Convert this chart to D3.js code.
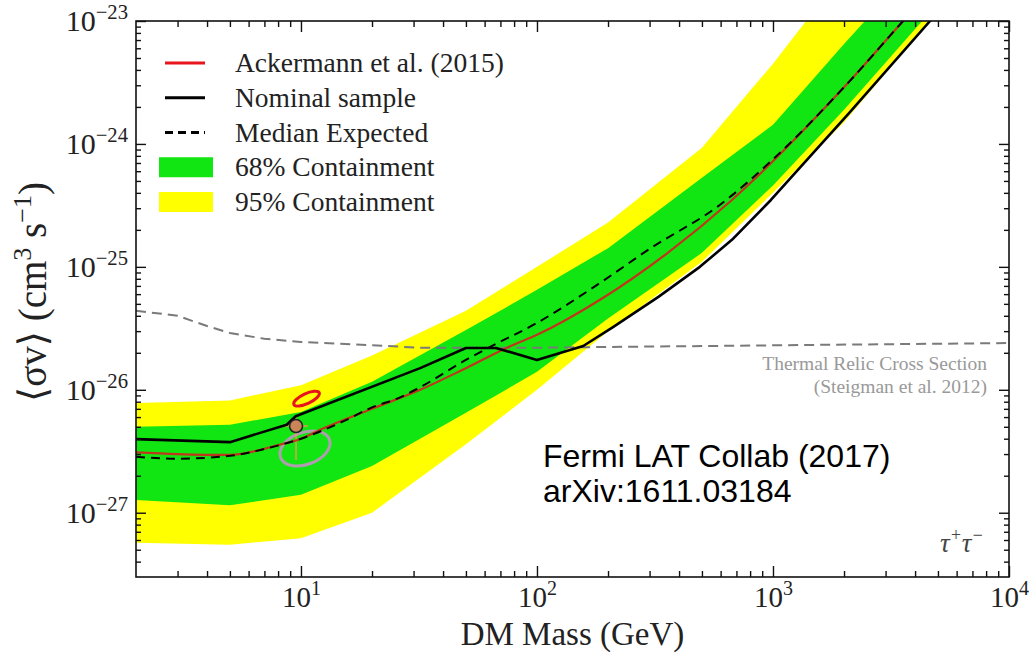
<!DOCTYPE html>
<html>
<head>
<meta charset="utf-8">
<script src="https://cdn.jsdelivr.net/npm/d3@7/dist/d3.min.js"></script>
<style>
html,body{margin:0;padding:0;background:#fff;}
svg{display:block;}
</style>
</head>
<body>
<svg id="chart" width="1031" height="658"></svg>
<script>
// ---------------- data ----------------
const bandMass    = [2, 5, 10, 20, 50, 100, 200, 500, 1000, 2000, 5000, 10000];
const yellowUpper = [7.8e-27, 8.2e-27, 1.09e-26, 1.9e-26, 4.4e-26, 1.0e-25, 2.3e-25, 9.3e-25, 4.5e-24, 2.5e-23, 2e-22, 1e-21];
const greenUpper  = [5.0e-27, 5.2e-27, 6.6e-27, 1.16e-26, 3.06e-26, 6.5e-26, 1.42e-25, 5.3e-25, 1.43e-24, 6.5e-24, 4.5e-23, 2e-22];
const greenLower  = [1.27e-27, 1.15e-27, 1.4e-27, 2.4e-27, 6.5e-27, 1.4e-26, 3.8e-26, 1.3e-25, 4.6e-25, 1.9e-24, 1.4e-23, 5.5e-23];
const yellowLower = [5.7e-28, 5.5e-28, 6.2e-28, 1.0e-27, 3.6e-27, 1.0e-26, 3.0e-26, 1.1e-25, 4.0e-25, 1.5e-24, 1.2e-23, 4.5e-23];

const medianMass  = [2, 3, 5, 7, 10, 15, 20, 26, 32, 50, 63, 100, 185, 300, 597, 1000, 2100, 3560, 10000];
const medianValue = [2.85e-27, 2.75e-27, 2.9e-27, 3.3e-27, 4.0e-27, 5.5e-27, 7.2e-27, 8.6e-27, 1.05e-26, 1.75e-26, 2.22e-26, 3.5e-26, 7.4e-26, 1.4e-25, 3.2e-25, 7.5e-25, 3.2e-24, 1e-23, 8e-23];

const ackermannMass  = [2, 3, 5, 8, 10, 12, 20, 32, 50, 77, 100, 185, 356, 670, 2100, 3560, 10000];
const ackermannValue = [3.1e-27, 3.0e-27, 2.95e-27, 3.55e-27, 4.0e-27, 4.7e-27, 7.0e-27, 1.0e-26, 1.5e-26, 2.26e-26, 2.8e-26, 5.4e-26, 1.29e-25, 3.5e-25, 3.2e-24, 1e-23, 9e-23];

const nominalMass  = [2, 5, 8.7, 9.5, 32, 50, 67, 100, 157, 210, 327, 490, 670, 980, 2100, 4630, 10000];
const nominalValue = [3.97e-27, 3.75e-27, 5.2e-27, 6.1e-27, 1.5e-26, 2.19e-26, 2.19e-26, 1.75e-26, 2.27e-26, 3.24e-26, 5.7e-26, 1.0e-25, 1.66e-25, 3.5e-25, 1.78e-24, 1e-23, 5.5e-23];

const thermalMass  = [2, 3, 4, 5, 7, 10, 20, 32, 100, 1000, 10000];
const thermalValue = [4.4e-26, 4.0e-26, 3.3e-26, 2.9e-26, 2.6e-26, 2.45e-26, 2.3e-26, 2.2e-26, 2.2e-26, 2.3e-26, 2.4e-26];

const fitPoint         = {mass: 9.53, value: 5.07e-27};
const fitErrorMass     = [8.4, 10.7];
const fitErrorValue    = [2.68e-27, 6.0e-27];
const redEllipseCenter = {mass: 10.56, value: 8.47e-27};
const grayEllipseCenter= {mass: 10.4,  value: 3.33e-27};

const xTickValues    = [10, 100, 1000, 10000];
const xTickExponents = ['1', '2', '3', '4'];
const yTickValues    = [1e-27, 1e-26, 1e-25, 1e-24, 1e-23];
const yTickExponents = ['\u221227', '\u221226', '\u221225', '\u221224', '\u221223'];

const legendLabels = ['Ackermann et al. (2015)', 'Nominal sample', 'Median Expected', '68% Containment', '95% Containment'];
const thermalLabel = ['Thermal Relic Cross Section', '(Steigman et al. 2012)'];
const noteLines    = ['Fermi LAT Collab (2017)', 'arXiv:1611.03184'];

// ---------------- styles ----------------
const GREEN = '#12e612', YELLOW = '#ffff00', RED = '#e8141c', REDLINE = '#c0361c';
const SERIF = '"Liberation Serif", "DejaVu Serif", serif';
const SANS  = '"Liberation Sans", Arial, sans-serif';
const W = 1031, H = 658, L = 136, R = 1009, T = 21, B = 577;

const svg = d3.select('#chart');
svg.append('rect').attr('width', W).attr('height', H).attr('fill', '#fff');

const x = d3.scaleLog().domain([2, 1e4]).range([L, R]);
const y = d3.scaleLog().domain([3e-28, 1e-23]).range([B, T]);

svg.append('defs').append('clipPath').attr('id', 'clip')
  .append('rect').attr('x', L).attr('y', T).attr('width', R - L).attr('height', B - T);
const plot = svg.append('g').attr('clip-path', 'url(#clip)');

const bandRows = bandMass.map((m, i) => ({m, yu: yellowUpper[i], gu: greenUpper[i], gl: greenLower[i], yl: yellowLower[i]}));
plot.append('path').datum(bandRows)
  .attr('d', d3.area().x(d => x(d.m)).y0(d => y(d.yl)).y1(d => y(d.yu)))
  .attr('fill', YELLOW);
plot.append('path').datum(bandRows)
  .attr('d', d3.area().x(d => x(d.m)).y0(d => y(d.gl)).y1(d => y(d.gu)))
  .attr('fill', GREEN);

const line = d3.line().x(d => x(d[0])).y(d => y(d[1]));
const zip = (a, b) => a.map((v, i) => [v, b[i]]);

// thermal relic
plot.append('path').datum(zip(thermalMass, thermalValue))
  .attr('d', line).attr('fill', 'none').attr('stroke', '#7a7a7a')
  .attr('stroke-width', 2).attr('stroke-dasharray', '10,6');

// gray ellipse
plot.append('ellipse')
  .attr('transform', `translate(${x(grayEllipseCenter.mass)},${y(grayEllipseCenter.value)}) rotate(-20)`)
  .attr('rx', 26).attr('ry', 16)
  .attr('fill', 'none').attr('stroke', '#b09cb0').attr('stroke-width', 3);

// error bars of fit point
plot.append('line')
  .attr('x1', x(fitPoint.mass)).attr('x2', x(fitPoint.mass))
  .attr('y1', y(fitErrorValue[1])).attr('y2', y(fitErrorValue[0]))
  .attr('stroke', '#e0a050').attr('stroke-width', 2).attr('opacity', 0.75);
plot.append('line')
  .attr('x1', x(fitErrorMass[0])).attr('x2', x(fitErrorMass[1]))
  .attr('y1', y(fitPoint.value)).attr('y2', y(fitPoint.value))
  .attr('stroke', '#e0a050').attr('stroke-width', 2).attr('opacity', 0.75);

// Ackermann (red)
plot.append('path').datum(zip(ackermannMass, ackermannValue))
  .attr('d', line.curve(d3.curveMonotoneX)).attr('fill', 'none')
  .attr('stroke', REDLINE).attr('stroke-width', 2.2);

// median expected (dashed)
plot.append('path').datum(zip(medianMass, medianValue))
  .attr('d', line.curve(d3.curveMonotoneX)).attr('fill', 'none')
  .attr('stroke', '#000').attr('stroke-width', 2).attr('stroke-dasharray', '9,6');

// nominal sample (black)
plot.append('path').datum(zip(nominalMass, nominalValue))
  .attr('d', line.curve(d3.curveLinear)).attr('fill', 'none')
  .attr('stroke', '#000').attr('stroke-width', 2.6).attr('stroke-linejoin', 'round');

// red ellipse
plot.append('ellipse')
  .attr('transform', `translate(${x(redEllipseCenter.mass)},${y(redEllipseCenter.value)}) rotate(-25)`)
  .attr('rx', 14).attr('ry', 5)
  .attr('fill', 'none').attr('stroke', RED).attr('stroke-width', 3);

// fit point
plot.append('circle')
  .attr('cx', x(fitPoint.mass)).attr('cy', y(fitPoint.value)).attr('r', 6.5)
  .attr('fill', '#c98458').attr('stroke', '#222').attr('stroke-width', 1.6);

// ---------------- axes ----------------
function minorTicks(lo, hi) {
  const out = [];
  for (let e = Math.floor(Math.log10(lo)); e <= Math.ceil(Math.log10(hi)); e++) {
    for (let k = 2; k <= 9; k++) {
      const v = k * Math.pow(10, e);
      if (v > lo * 1.0001 && v < hi * 0.9999) out.push(v);
    }
  }
  return out;
}
const xMinor = minorTicks(2, 1e4);
const yMinor = minorTicks(3e-28, 1e-23);

function styleAxis(g) {
  g.select('.domain').remove();
  g.selectAll('.tick line').attr('stroke', '#111').attr('stroke-width', 1.4);
}
function supLabels(g, exps, values, size) {
  g.selectAll('.tick text').each(function(d) {
    const t = d3.select(this);
    const i = values.indexOf(d);
    t.text(null).attr('font-family', SERIF).attr('font-size', size).attr('fill', '#222');
    t.append('tspan').text('10');
    t.append('tspan').attr('dy', -12).attr('font-size', size * 0.69).text(exps[i]);
  });
}

// bottom
svg.append('g').attr('transform', `translate(0,${B})`)
  .call(d3.axisBottom(x).tickValues(xMinor).tickSizeInner(-6).tickSizeOuter(0).tickFormat(() => ''))
  .call(styleAxis);
svg.append('g').attr('transform', `translate(0,${B})`)
  .call(d3.axisBottom(x).tickValues(xTickValues).tickSizeInner(-11).tickSizeOuter(0).tickPadding(9).tickFormat(() => ''))
  .call(styleAxis).call(g => supLabels(g, xTickExponents, xTickValues, 29));
// top
svg.append('g').attr('transform', `translate(0,${T})`)
  .call(d3.axisTop(x).tickValues(xMinor).tickSizeInner(-6).tickSizeOuter(0).tickFormat(() => ''))
  .call(styleAxis);
svg.append('g').attr('transform', `translate(0,${T})`)
  .call(d3.axisTop(x).tickValues(xTickValues).tickSizeInner(-11).tickSizeOuter(0).tickFormat(() => ''))
  .call(styleAxis);
// left
svg.append('g').attr('transform', `translate(${L},0)`)
  .call(d3.axisLeft(y).tickValues(yMinor).tickSizeInner(-5).tickSizeOuter(0).tickFormat(() => ''))
  .call(styleAxis);
svg.append('g').attr('transform', `translate(${L},0)`)
  .call(d3.axisLeft(y).tickValues(yTickValues).tickSizeInner(-10).tickSizeOuter(0).tickPadding(8).tickFormat(() => ''))
  .call(styleAxis).call(g => supLabels(g, yTickExponents, yTickValues, 30));
// right
svg.append('g').attr('transform', `translate(${R},0)`)
  .call(d3.axisRight(y).tickValues(yMinor).tickSizeInner(-5).tickSizeOuter(0).tickFormat(() => ''))
  .call(styleAxis);
svg.append('g').attr('transform', `translate(${R},0)`)
  .call(d3.axisRight(y).tickValues(yTickValues).tickSizeInner(-10).tickSizeOuter(0).tickFormat(() => ''))
  .call(styleAxis);

// frame
svg.append('rect').attr('x', L).attr('y', T).attr('width', R - L).attr('height', B - T)
  .attr('fill', 'none').attr('stroke', '#111').attr('stroke-width', 1.6);

// axis titles
svg.append('text').attr('x', (L + R) / 2).attr('y', 645).attr('text-anchor', 'middle')
  .attr('font-family', SERIF).attr('font-size', 33).attr('fill', '#222').text('DM Mass (GeV)');

const yl = svg.append('text').attr('transform', 'translate(46,292) rotate(-90)')
  .attr('text-anchor', 'middle').attr('font-family', SERIF).attr('font-size', 39).attr('fill', '#222');
yl.append('tspan').text('\u27E8\u03C3v\u27E9 (cm');
yl.append('tspan').attr('dy', -15).attr('font-size', 26).text('3');
yl.append('tspan').attr('dy', 15).text(' s');
yl.append('tspan').attr('dy', -15).attr('font-size', 26).text('\u22121');
yl.append('tspan').attr('dy', 15).text(')');

// ---------------- legend ----------------
const lg = svg.append('g');
legendLabels.forEach((lab, i) => {
  const cy = 63 + i * 34.75;
  if (i < 3) {
    lg.append('line').attr('x1', 165).attr('x2', 205).attr('y1', cy).attr('y2', cy)
      .attr('stroke', i === 0 ? RED : '#000').attr('stroke-width', 3)
      .attr('stroke-dasharray', i === 2 ? '8,5' : null);
  } else {
    lg.append('rect').attr('x', 159).attr('y', cy - 10).attr('width', 54).attr('height', 20)
      .attr('fill', i === 3 ? GREEN : YELLOW);
  }
  lg.append('text').attr('x', 235).attr('y', cy + 9)
    .attr('font-family', SERIF).attr('font-size', 27.5).attr('fill', '#222').text(lab);
});

// thermal relic label
thermalLabel.forEach((t, i) => {
  svg.append('text').attr('x', 987).attr('y', 370 + i * 23).attr('text-anchor', 'end')
    .attr('font-family', SERIF).attr('font-size', 19.5).attr('fill', '#999').text(t);
});

// annotation
noteLines.forEach((t, i) => {
  svg.append('text').attr('x', 543).attr('y', 467 + i * 35)
    .attr('font-family', SANS).attr('font-size', 32).attr('fill', '#000').text(t);
});

// channel label
const tau = svg.append('text').attr('x', 940).attr('y', 552)
  .attr('font-family', SERIF).attr('font-style', 'italic').attr('font-size', 27).attr('fill', '#444');
tau.append('tspan').text('\u03C4');
tau.append('tspan').attr('dy', -11).attr('font-size', 18).text('+');
tau.append('tspan').attr('dy', 11).text('\u03C4');
tau.append('tspan').attr('dy', -11).attr('font-size', 18).text('\u2212');
</script>
</body>
</html>
